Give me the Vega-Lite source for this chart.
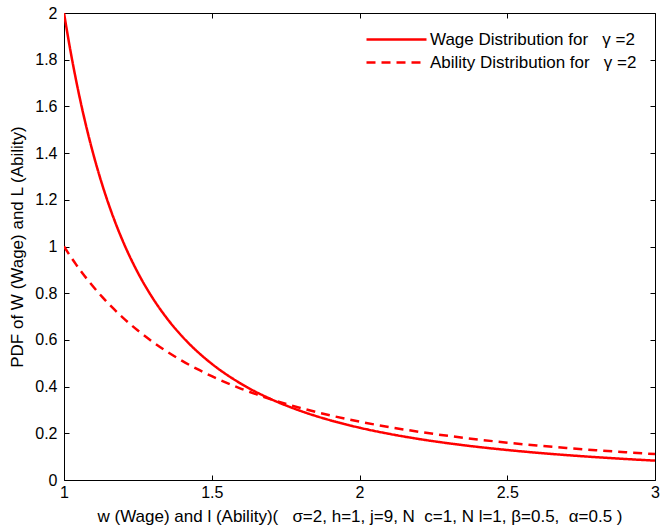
{
  "$schema": "https://vega.github.io/schema/vega-lite/v6.json",
  "width": 591,
  "height": 467,
  "autosize": {"type": "none"},
  "padding": {"left": 64, "top": 13, "right": 6, "bottom": 51},
  "background": "white",
  "config": {
    "view": {"stroke": null},
    "font": "Liberation Sans",
    "axis": {
      "domainColor": "black", "tickColor": "black", "labelColor": "black", "titleColor": "black",
      "labelFontSize": 16, "titleFontSize": 17, "titleFontWeight": "normal",
      "grid": false, "tickSize": -5, "domainWidth": 1, "tickWidth": 1
    }
  },
  "datasets": {
    "curves": [
      {"x": 1.0, "y": 2.0, "s": "W"},
      {"x": 1.02, "y": 1.8511, "s": "W"},
      {"x": 1.04, "y": 1.7177, "s": "W"},
      {"x": 1.06, "y": 1.5977, "s": "W"},
      {"x": 1.08, "y": 1.4896, "s": "W"},
      {"x": 1.1, "y": 1.3919, "s": "W"},
      {"x": 1.13, "y": 1.262, "s": "W"},
      {"x": 1.16, "y": 1.1491, "s": "W"},
      {"x": 1.2, "y": 1.0205, "s": "W"},
      {"x": 1.25, "y": 0.8878, "s": "W"},
      {"x": 1.3, "y": 0.7794, "s": "W"},
      {"x": 1.35, "y": 0.6897, "s": "W"},
      {"x": 1.4, "y": 0.6148, "s": "W"},
      {"x": 1.45, "y": 0.5516, "s": "W"},
      {"x": 1.5, "y": 0.4978, "s": "W"},
      {"x": 1.6, "y": 0.4117, "s": "W"},
      {"x": 1.7, "y": 0.3466, "s": "W"},
      {"x": 1.8, "y": 0.2962, "s": "W"},
      {"x": 1.9, "y": 0.2562, "s": "W"},
      {"x": 2.0, "y": 0.2241, "s": "W"},
      {"x": 2.1, "y": 0.1977, "s": "W"},
      {"x": 2.2, "y": 0.1758, "s": "W"},
      {"x": 2.3, "y": 0.1574, "s": "W"},
      {"x": 2.4, "y": 0.1418, "s": "W"},
      {"x": 2.5, "y": 0.1284, "s": "W"},
      {"x": 2.6, "y": 0.1168, "s": "W"},
      {"x": 2.7, "y": 0.1067, "s": "W"},
      {"x": 2.8, "y": 0.0978, "s": "W"},
      {"x": 2.9, "y": 0.09, "s": "W"},
      {"x": 3.0, "y": 0.083, "s": "W"},
      {"x": 1.0, "y": 1.0, "s": "A"},
      {"x": 1.02, "y": 0.9612, "s": "A"},
      {"x": 1.04, "y": 0.9246, "s": "A"},
      {"x": 1.06, "y": 0.89, "s": "A"},
      {"x": 1.08, "y": 0.8573, "s": "A"},
      {"x": 1.1, "y": 0.8264, "s": "A"},
      {"x": 1.13, "y": 0.7831, "s": "A"},
      {"x": 1.16, "y": 0.7432, "s": "A"},
      {"x": 1.2, "y": 0.6944, "s": "A"},
      {"x": 1.25, "y": 0.64, "s": "A"},
      {"x": 1.3, "y": 0.5917, "s": "A"},
      {"x": 1.35, "y": 0.5487, "s": "A"},
      {"x": 1.4, "y": 0.5102, "s": "A"},
      {"x": 1.45, "y": 0.4756, "s": "A"},
      {"x": 1.5, "y": 0.4444, "s": "A"},
      {"x": 1.6, "y": 0.3906, "s": "A"},
      {"x": 1.7, "y": 0.346, "s": "A"},
      {"x": 1.8, "y": 0.3086, "s": "A"},
      {"x": 1.9, "y": 0.277, "s": "A"},
      {"x": 2.0, "y": 0.25, "s": "A"},
      {"x": 2.1, "y": 0.2268, "s": "A"},
      {"x": 2.2, "y": 0.2066, "s": "A"},
      {"x": 2.3, "y": 0.189, "s": "A"},
      {"x": 2.4, "y": 0.1736, "s": "A"},
      {"x": 2.5, "y": 0.16, "s": "A"},
      {"x": 2.6, "y": 0.1479, "s": "A"},
      {"x": 2.7, "y": 0.1372, "s": "A"},
      {"x": 2.8, "y": 0.1276, "s": "A"},
      {"x": 2.9, "y": 0.1189, "s": "A"},
      {"x": 3.0, "y": 0.1111, "s": "A"}
    ]
  },
  "data": {"name": "curves"},
  "layer": [
    {
      "mark": {"type": "line", "color": "#ff0000", "strokeWidth": 2.5, "interpolate": "monotone", "clip": true},
      "encoding": {
        "x": {
          "field": "x", "type": "quantitative",
          "scale": {"domain": [1, 3], "nice": false, "zero": false},
          "axis": {
            "values": [1, 1.5, 2, 2.5, 3], "format": "~g",
            "title": "w (Wage) and l (Ability)(\u00a0\u00a0\u00a0σ=2, h=1, j=9, N\u00a0\u00a0c=1, N\u00a0l=1, β=0.5,\u00a0\u00a0α=0.5 )",
            "labelPadding": 9, "titlePadding": 8, "labelFlush": false
          }
        },
        "y": {
          "field": "y", "type": "quantitative",
          "scale": {"domain": [0, 2], "nice": false},
          "axis": {
            "values": [0, 0.2, 0.4, 0.6, 0.8, 1, 1.2, 1.4, 1.6, 1.8, 2], "format": "~g",
            "title": "PDF of W (Wage) and L (Ability)",
            "labelPadding": 12, "titlePadding": 8, "labelFlush": false
          }
        },
        "strokeDash": {
          "field": "s", "type": "nominal",
          "scale": {"domain": ["W", "A"], "range": [[1, 0], [9, 6]]},
          "legend": {
            "orient": "none", "legendX": 321, "legendY": 15, "title": null,
            "labelExpr": "datum.value == 'W' ? 'Wage Distribution for\u00a0\u00a0\u00a0γ =2' : 'Ability Distribution for\u00a0\u00a0\u00a0γ =2'",
            "symbolType": "M-3,0L3,0", "symbolSize": 400, "labelOffset": 22, "rowPadding": 3, "padding": 0,
            "labelFontSize": 17, "labelColor": "black", "symbolStrokeWidth": 2.5, "symbolStrokeColor": "#ff0000",
            "labelLimit": 400
          }
        }
      }
    },
    {
      "mark": {"type": "line", "opacity": 0},
      "encoding": {
        "x": {
          "field": "x", "type": "quantitative",
          "scale": {"domain": [1, 3], "nice": false, "zero": false},
          "axis": {"orient": "top", "values": [1, 1.5, 2, 2.5, 3], "labels": false, "title": null}
        },
        "y": {
          "field": "y", "type": "quantitative",
          "scale": {"domain": [0, 2], "nice": false},
          "axis": {"orient": "right", "values": [0, 0.2, 0.4, 0.6, 0.8, 1, 1.2, 1.4, 1.6, 1.8, 2], "labels": false, "title": null}
        }
      }
    }
  ],
  "resolve": {"axis": {"x": "independent", "y": "independent"}}
}
